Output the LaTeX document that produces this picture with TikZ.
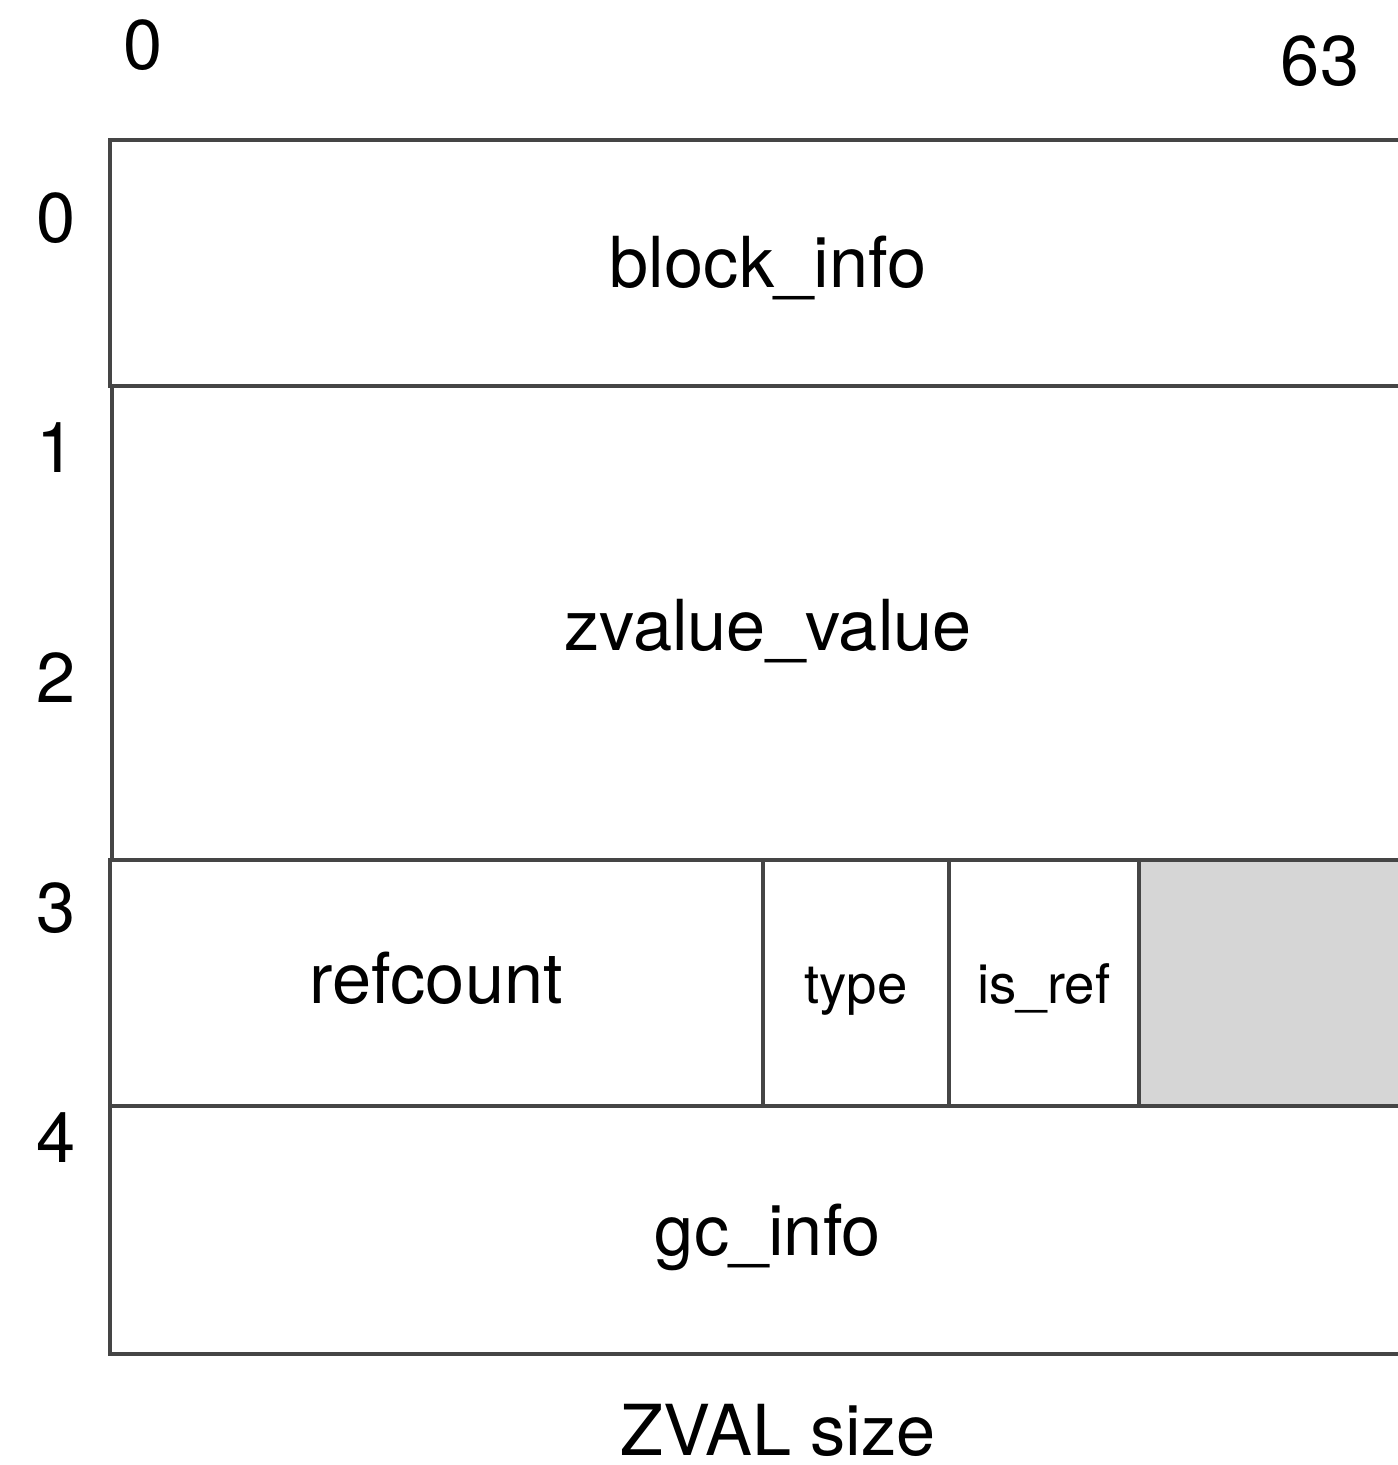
\documentclass[tikz,border=0pt]{standalone}
\usepackage{fontspec}
\setmainfont{TeX Gyre Heros}
\definecolor{linegray}{HTML}{454545}
\definecolor{padgray}{HTML}{D6D6D6}
\begin{document}
\begin{tikzpicture}[x=0.01cm,y=-0.01cm,
		word/.style={anchor=base,inner sep=0pt,font=\fontsize{20}{24}\selectfont},
		smallword/.style={anchor=base,inner sep=0pt,font=\fontsize{15.5}{18}\selectfont},
		box/.style={draw=linegray,line width=1.35pt}]

		\clip (0,0) rectangle (1398,1465);

		% padding of row 3
		\fill[color=padgray] (1139,860) rectangle (1420,1106);

		\draw[box] (110,140) rectangle (1420,386);
		\draw[box] (112,386) rectangle (1420,860);
		\draw[box] (110,860) rectangle (1420,1106);
		\draw[box] (110,1106) rectangle (1420,1354);

		\foreach \x in {763,949,1139}
			\draw[box] (\x,860) -- (\x,1106);

		% bit numbers
		\node[word] (bitlow) at (143,69) {0};
		\node[word] (bithigh) at (1320,85) {63};

		% word numbers
		\foreach \i/\y in {0/242,1/472,2/702,3/932,4/1162}
			\node[word] (row\i) at (56,\y) {\i};

		\node[word] (blockinfo) at (768,287) {block\_info};
		\node[word] (zvalue) at (768,650) {zvalue\_value};
		\node[word] (refcount) at (436,1003) {refcount};
		\node[smallword] (type) at (856,1003) {type};
		\node[smallword] (isref) at (1044,1003) {is\_ref};
		\node[word] (gcinfo) at (768,1255) {gc\_info};

		\node[word] (caption) at (778,1455) {ZVAL size};

	\end{tikzpicture}
\end{document}
